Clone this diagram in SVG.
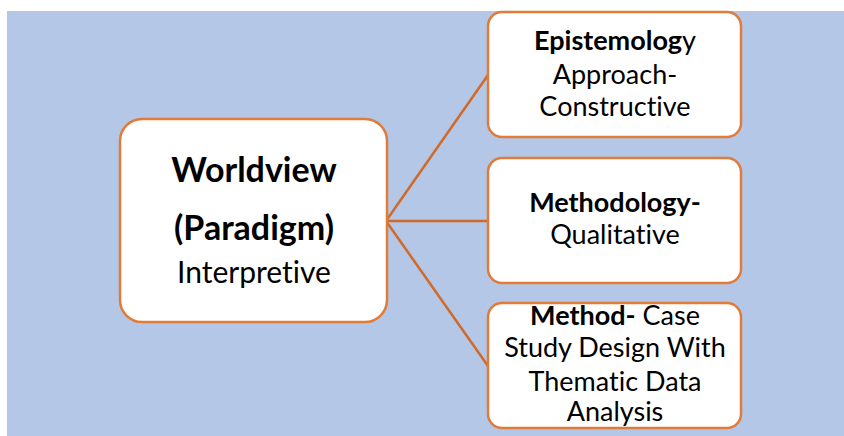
<svg xmlns="http://www.w3.org/2000/svg" width="844" height="436" viewBox="0 0 844 436">
  <style>
    .box { fill: #FFFFFF; stroke: #E07B39; stroke-width: 2.5; }
    .link { fill: none; stroke: #CF6A2A; stroke-width: 2.5; }
    text { font-family: Lato, "Open Sans", sans-serif; fill: #000000; text-anchor: middle; font-variant-ligatures: none; }
    .big { font-size: 34px; }
    .mid { font-size: 30px; }
    .sm { font-size: 27px; }
    .b { font-weight: bold; }
  </style>
  <rect x="7" y="11" width="837" height="425" fill="#B4C7E7"/>

  <g id="connectors">
    <line class="link" x1="386" y1="221" x2="488" y2="75"/>
    <line class="link" x1="386" y1="221" x2="488" y2="221"/>
    <line class="link" x1="386" y1="221" x2="488" y2="366"/>
  </g>

  <g id="worldview">
    <rect class="box" x="120" y="119" width="267" height="203" rx="22"/>
    <text class="big b" x="254" y="182">Worldview</text>
    <text class="big b" x="254" y="240">(Paradigm)</text>
    <text class="mid" x="254" y="283">Interpretive</text>
  </g>

  <g id="epistemology">
    <rect class="box" x="488" y="12" width="253" height="125" rx="14"/>
    <text class="sm" x="615" y="50"><tspan class="b">Epistemolog</tspan>y</text>
    <text class="sm" x="615" y="84">Approach-</text>
    <text class="sm" x="615" y="116">Constructive</text>
  </g>

  <g id="methodology">
    <rect class="box" x="488" y="158" width="253" height="125" rx="14"/>
    <text class="sm b" x="615" y="212">Methodology-</text>
    <text class="sm" x="615" y="244">Qualitative</text>
  </g>

  <g id="method">
    <rect class="box" x="488" y="303" width="253" height="125" rx="14"/>
    <text class="sm" x="615" y="325"><tspan class="b">Method-</tspan> Case</text>
    <text class="sm" x="615" y="357">Study Design With</text>
    <text class="sm" x="615" y="391">Thematic Data</text>
    <text class="sm" x="615" y="421">Analysis</text>
  </g>
</svg>
